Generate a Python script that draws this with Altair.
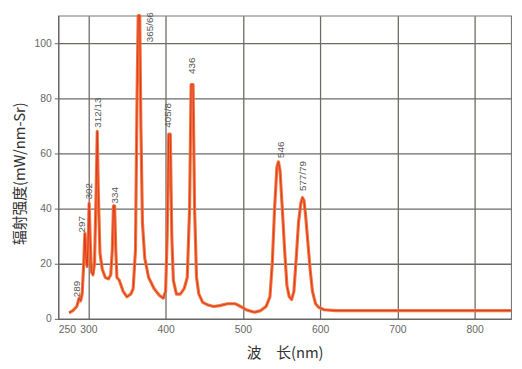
import altair as alt
import pandas as pd

# Spectrum (wavelength nm, intensity mW/nm-Sr)
wavelength = [275, 280, 285, 288, 290, 292, 294, 295.5, 297, 298.5, 300, 301, 302.5, 304, 306, 308,
              310, 311.5, 313, 315, 318, 322, 326, 329, 331, 332.5, 334, 335.5, 337, 340, 345, 350,
              355, 358, 361, 363, 364.5, 366.5, 368, 370, 373, 378, 385, 392, 397, 400, 402, 404,
              406, 408, 410, 414, 419, 424, 428, 431, 433, 435.5, 437.5, 440, 443, 448, 455, 462,
              470, 480, 490, 497, 505, 515, 523, 530, 535, 538, 541, 544, 546, 548, 551, 554, 557,
              560, 563, 566, 569, 572, 575, 577, 579, 581, 584, 587, 590, 594, 598, 605, 620, 650,
              700, 750, 800, 847]
intensity = [2.2, 3, 4.5, 7.5, 6.5, 9, 20, 31, 22, 19, 30, 42, 28, 17, 16, 20,
             45, 68, 45, 24, 18, 15, 14.5, 16, 25, 41, 41, 25, 15, 14, 10, 8,
             9, 11, 25, 80, 130, 130, 70, 35, 22, 15, 11, 8.5, 7.5, 10, 30, 67,
             67, 30, 14, 9, 9, 11, 15, 40, 85, 85, 40, 15, 9, 6, 5, 4.5,
             4.8, 5.5, 5.5, 4.5, 3.2, 2.4, 3, 4.5, 8, 20, 40, 55, 57, 54, 40, 25, 12,
             8, 7, 10, 22, 35, 42, 44, 43, 38, 28, 18, 10, 5.5, 4.2, 3.3, 3, 3,
             3, 3, 3, 3]

# Peak labels (text, anchor wavelength, anchor intensity)
peak_labels = ["289", "297", "302", "312/13", "334", "365/66", "405/8", "436", "546", "577/79"]
label_wl = [285, 292, 300.6, 313, 334, 379.5, 402.5, 434.5, 549, 578]
label_val = [7.5, 31, 43, 69, 41.5, 100, 69, 88.5, 58, 46]

x_ticks = [261, 300, 400, 500, 600, 700, 800]
y_ticks = [0, 20, 40, 60, 80, 100]

spec = pd.DataFrame({"wl": wavelength, "val": intensity})
labels = pd.DataFrame({"t": peak_labels, "wl": label_wl, "val": label_val})

x_scale = alt.Scale(domain=[261, 847], nice=False, zero=False)
y_scale = alt.Scale(domain=[0, 110], nice=False, clamp=True)

x_enc = alt.X("wl:Q", scale=x_scale,
              axis=alt.Axis(values=x_ticks, title="波　长(nm)",
                            labelExpr="datum.value < 280 ? '250' : datum.label",
                            grid=True, gridColor="#6e6a66", gridWidth=1.3, gridOpacity=1,
                            ticks=False, labelPadding=6,
                            titleY=34, titleX=230, titleBaseline="middle"))
y_enc = alt.Y("val:Q", scale=y_scale,
              axis=alt.Axis(values=y_ticks, title="辐射强度(mW/nm-Sr)",
                            grid=True, gridColor="#6e6a66", gridWidth=1.3, gridOpacity=1,
                            tickSize=4, labelPadding=3,
                            titleX=-39, titleY=160, titleAngle=270,
                            titleAlign="center", titleBaseline="middle"))

outer = alt.Chart(spec).mark_line(color="#f2763c", strokeWidth=3.2,
                                  strokeJoin="round").encode(x=x_enc, y=y_enc, order="wl:Q")
inner = alt.Chart(spec).mark_line(color="#dc2e1c", strokeWidth=0.9,
                                  strokeJoin="round").encode(x="wl:Q", y="val:Q", order="wl:Q")
text = alt.Chart(labels).mark_text(angle=270, align="left", baseline="middle", fontSize=10,
                                   font="Liberation Sans", color="#555555", dx=1).encode(
    x="wl:Q", y="val:Q", text="t:N")

chart = alt.layer(outer, inner, text).properties(
    width=460, height=308,
    padding={"left": 51, "top": 5, "right": 3, "bottom": 40},
    autosize=alt.AutoSizeParams(type="none"),
).configure_view(stroke="#777777", strokeWidth=1.1).configure_axis(
    domainColor="#666666", tickColor="#666666",
    labelFont="Liberation Sans", labelFontSize=10.5, labelColor="#666666",
    titleFont="Noto Sans CJK SC", titleFontSize=15, titleFontWeight="normal", titleColor="#333333",
)

chart.save("out.html", embed_options={"renderer": "svg", "actions": False})
